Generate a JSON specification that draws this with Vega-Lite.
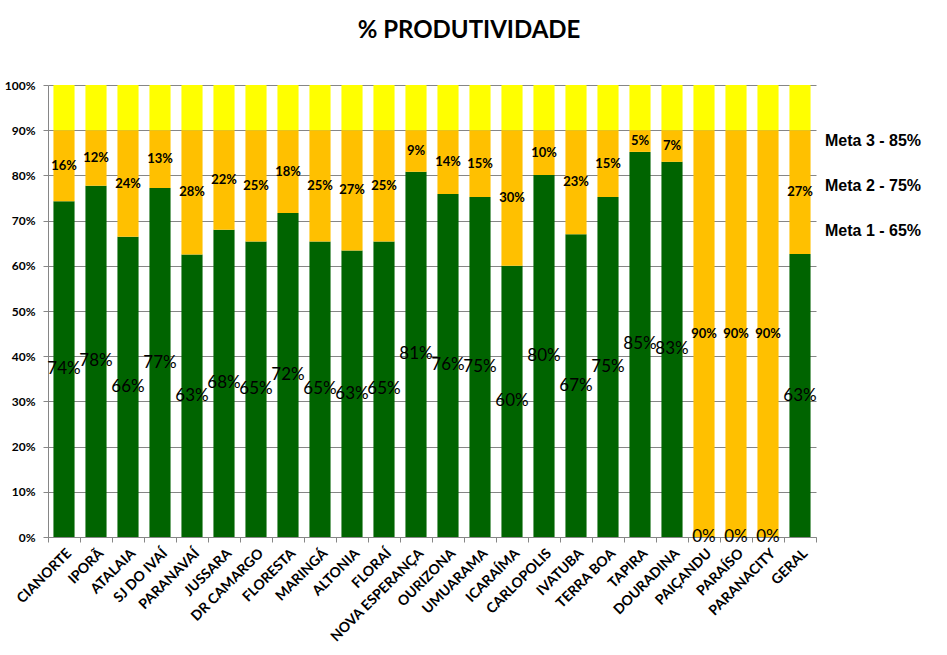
{
  "$schema": "https://vega.github.io/schema/vega-lite/v6.json",
  "width": 768,
  "height": 452,
  "autosize": {"type": "none"},
  "padding": {"left": 48, "top": 85, "right": 131, "bottom": 118},
  "background": "white",
  "title": {"text": "% PRODUTIVIDADE", "font": "Lato", "fontSize": 24, "fontWeight": "bold", "color": "black", "anchor": "middle", "dx": 37, "offset": 36},
  "config": {
    "font": "Lato",
    "view": {"stroke": null},
    "axisY": {"grid": true, "gridColor": "#868686", "domainColor": "#868686", "tickColor": "#868686", "tickSize": 5, "labelFont": "Lato", "labelFontSize": 12, "labelFontWeight": "bold", "labelColor": "black", "labelPadding": 8},
    "axisX": {"tickBand": "extent", "labelAngle": -45, "labelFont": "Lato", "labelFontSize": 14, "labelFontWeight": "bold", "labelColor": "black", "domainColor": "#868686", "tickColor": "#868686", "tickSize": 5, "grid": false, "labelPadding": 4}
  },
  "data": {"values": [
    {"municipio": "CIANORTE", "Produtividade": 0.743, "Restante": 0.157, "Topo": 0.1},
    {"municipio": "IPORÃ", "Produtividade": 0.777, "Restante": 0.123, "Topo": 0.1},
    {"municipio": "ATALAIA", "Produtividade": 0.664, "Restante": 0.236, "Topo": 0.1},
    {"municipio": "SJ DO IVAÍ", "Produtividade": 0.772, "Restante": 0.128, "Topo": 0.1},
    {"municipio": "PARANAVAÍ", "Produtividade": 0.625, "Restante": 0.2751, "Topo": 0.0999},
    {"municipio": "JUSSARA", "Produtividade": 0.68, "Restante": 0.22, "Topo": 0.1},
    {"municipio": "DR CAMARGO", "Produtividade": 0.654, "Restante": 0.246, "Topo": 0.1},
    {"municipio": "FLORESTA", "Produtividade": 0.717, "Restante": 0.183, "Topo": 0.1},
    {"municipio": "MARINGÁ", "Produtividade": 0.654, "Restante": 0.246, "Topo": 0.1},
    {"municipio": "ALTONIA", "Produtividade": 0.634, "Restante": 0.266, "Topo": 0.1},
    {"municipio": "FLORAÍ", "Produtividade": 0.654, "Restante": 0.246, "Topo": 0.1},
    {"municipio": "NOVA ESPERANÇA", "Produtividade": 0.808, "Restante": 0.092, "Topo": 0.1},
    {"municipio": "OURIZONA", "Produtividade": 0.759, "Restante": 0.141, "Topo": 0.1},
    {"municipio": "UMUARAMA", "Produtividade": 0.752, "Restante": 0.148, "Topo": 0.1},
    {"municipio": "ICARAÍMA", "Produtividade": 0.6, "Restante": 0.3, "Topo": 0.1},
    {"municipio": "CARLOPOLIS", "Produtividade": 0.801, "Restante": 0.099, "Topo": 0.1},
    {"municipio": "IVATUBA", "Produtividade": 0.67, "Restante": 0.23, "Topo": 0.1},
    {"municipio": "TERRA BOA", "Produtividade": 0.752, "Restante": 0.148, "Topo": 0.1},
    {"municipio": "TAPIRA", "Produtividade": 0.852, "Restante": 0.048, "Topo": 0.1},
    {"municipio": "DOURADINA", "Produtividade": 0.83, "Restante": 0.07, "Topo": 0.1},
    {"municipio": "PAIÇANDU", "Produtividade": 0, "Restante": 0.9, "Topo": 0.1},
    {"municipio": "PARAÍSO", "Produtividade": 0, "Restante": 0.9, "Topo": 0.1},
    {"municipio": "PARANACITY", "Produtividade": 0, "Restante": 0.9, "Topo": 0.1},
    {"municipio": "GERAL", "Produtividade": 0.626, "Restante": 0.274, "Topo": 0.1}
  ]},
  "encoding": {
    "x": {"field": "municipio", "type": "nominal", "title": null,
      "scale": {"paddingInner": 0, "paddingOuter": 0, "domain": ["CIANORTE", "IPORÃ", "ATALAIA", "SJ DO IVAÍ", "PARANAVAÍ", "JUSSARA", "DR CAMARGO", "FLORESTA", "MARINGÁ", "ALTONIA", "FLORAÍ", "NOVA ESPERANÇA", "OURIZONA", "UMUARAMA", "ICARAÍMA", "CARLOPOLIS", "IVATUBA", "TERRA BOA", "TAPIRA", "DOURADINA", "PAIÇANDU", "PARAÍSO", "PARANACITY", "GERAL"]}}
  },
  "layer": [
    {
      "transform": [
        {"fold": ["Produtividade", "Restante", "Topo"], "as": ["serie", "valor"]},
        {"stack": "valor", "groupby": ["municipio"], "sort": [{"field": "serie", "order": "ascending"}], "as": ["v0", "v1"]}
      ],
      "mark": {"type": "bar", "width": {"band": 0.66}},
      "encoding": {
        "y": {"field": "v0", "type": "quantitative", "title": null, "scale": {"domain": [0, 1]}, "axis": {"format": ".0%", "values": [0, 0.1, 0.2, 0.3, 0.4, 0.5, 0.6, 0.7, 0.8, 0.9, 1]}},
        "y2": {"field": "v1"},
        "color": {"field": "serie", "type": "nominal", "legend": null,
          "scale": {"domain": ["Produtividade", "Restante", "Topo"], "range": ["#006400", "#FFC000", "#FFFF00"]}}
      }
    },
    {
      "transform": [
        {"fold": ["Produtividade", "Restante", "Topo"], "as": ["serie", "valor"]},
        {"stack": "valor", "groupby": ["municipio"], "sort": [{"field": "serie", "order": "ascending"}], "as": ["v0", "v1"]},
        {"filter": "datum.serie == 'Produtividade'"},
        {"fold": ["v0", "v1"], "as": ["borda", "pos"]}
      ],
      "mark": {"type": "text", "font": "Lato", "fontSize": 17, "color": "black", "baseline": "middle", "align": "center"},
      "encoding": {
        "y": {"aggregate": "mean", "field": "pos", "type": "quantitative", "title": null, "axis": {"format": ".0%", "values": [0, 0.1, 0.2, 0.3, 0.4, 0.5, 0.6, 0.7, 0.8, 0.9, 1]}},
        "text": {"field": "valor", "type": "quantitative", "format": ".0%"}
      }
    },
    {
      "transform": [
        {"fold": ["Produtividade", "Restante", "Topo"], "as": ["serie", "valor"]},
        {"stack": "valor", "groupby": ["municipio"], "sort": [{"field": "serie", "order": "ascending"}], "as": ["v0", "v1"]},
        {"filter": "datum.serie == 'Restante'"},
        {"fold": ["v0", "v1"], "as": ["borda", "pos"]}
      ],
      "mark": {"type": "text", "font": "Lato", "fontSize": 13, "fontWeight": "bold", "color": "black", "baseline": "middle", "align": "center"},
      "encoding": {
        "y": {"aggregate": "mean", "field": "pos", "type": "quantitative", "title": null, "axis": {"format": ".0%", "values": [0, 0.1, 0.2, 0.3, 0.4, 0.5, 0.6, 0.7, 0.8, 0.9, 1]}},
        "text": {"field": "valor", "type": "quantitative", "format": ".0%"}
      }
    },
    {
      "data": {"values": [
        {"meta": "Meta 3 - 85%", "alvo": 0.85},
        {"meta": "Meta 2 - 75%", "alvo": 0.75},
        {"meta": "Meta 1 - 65%", "alvo": 0.65}
      ]},
      "mark": {"type": "text", "font": "Liberation Sans", "fontSize": 16, "fontWeight": "bold", "color": "black", "align": "left", "baseline": "middle", "dx": 25, "dy": -12},
      "encoding": {
        "x": {"datum": "GERAL", "type": "nominal"},
        "y": {"field": "alvo", "type": "quantitative", "title": null, "axis": {"format": ".0%", "values": [0, 0.1, 0.2, 0.3, 0.4, 0.5, 0.6, 0.7, 0.8, 0.9, 1]}},
        "text": {"field": "meta", "type": "nominal"}
      }
    }
  ]
}
